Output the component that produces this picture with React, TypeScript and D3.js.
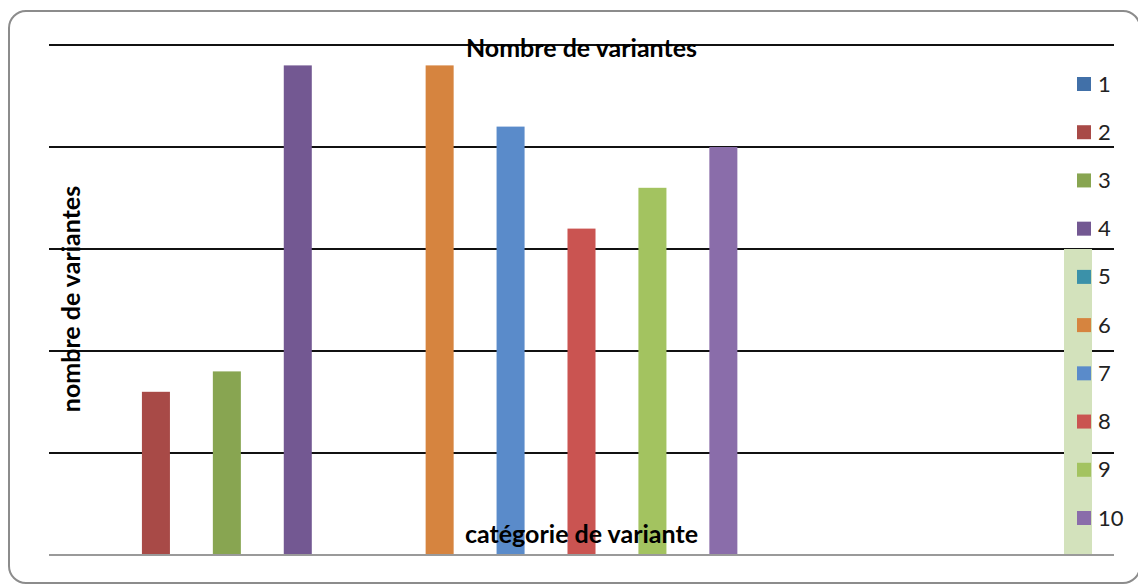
import React from "react";
import * as d3 from "d3";

// One category, fifteen series (the legend only has room for the first ten)
const seriesNames = ["1", "2", "3", "4", "5", "6", "7", "8", "9", "10", "11", "12", "13", "14", "15"];
const seriesValues = [0, 8, 9, 24, 0, 24, 21, 16, 18, 20, 0, 0, 0, 0, 15];
const seriesColors = [
  "#4170A8", "#A84A47", "#88A551", "#735892", "#3B91A9",
  "#D6843F", "#5A8BCA", "#CA5451", "#A3C360", "#8A6DAA",
  "#93CDDD", "#FAC08F", "#B9CDE5", "#E6B9B8", "#D3E2BC",
];
const legendNames = seriesNames.slice(0, 10);
const yTicks = [0, 5, 10, 15, 20, 25];

const chartTitle = "Nombre de variantes";
const xTitle = "catégorie de variante";
const yTitle = "nombre de variantes";

const W = 1138;
const H = 584;
const plot = { left: 49, right: 1114, top: 45, bottom: 555 };
const font = "Lato, 'Open Sans', sans-serif";

export default function App() {
  const y = d3.scaleLinear().domain([0, 25]).range([plot.bottom, plot.top]);
  const x = d3
    .scaleBand<string>()
    .domain(seriesNames)
    .range([plot.left, plot.right])
    .paddingInner(0.605)
    .paddingOuter(0.31);
  const legendY = d3
    .scalePoint<string>()
    .domain(legendNames)
    .range([84, 518]);

  return (
    <svg
      width={W}
      height={H}
      style={{ position: "fixed", left: 0, top: 0, background: "#fff" }}
      fontFamily={font}
    >
      <rect x={0} y={0} width={W} height={H} fill="#fff" />
      <rect
        x={9}
        y={11}
        width={1131}
        height={572}
        rx={17}
        ry={17}
        fill="#fff"
        stroke="#8c8c8c"
        strokeWidth={2}
      />

      {/* horizontal gridlines */}
      {yTicks
        .filter((t) => t > 0)
        .map((t) => (
          <line
            key={t}
            x1={plot.left}
            x2={plot.right}
            y1={y(t)}
            y2={y(t)}
            stroke="#111"
            strokeWidth={2.2}
          />
        ))}

      {/* bars */}
      {seriesNames.map((s, i) => {
        const v = seriesValues[i];
        if (v <= 0) return null;
        return (
          <rect
            key={s}
            x={x(s)}
            y={y(v)}
            width={x.bandwidth()}
            height={y(0) - y(v)}
            fill={seriesColors[i]}
          />
        );
      })}

      {/* category axis */}
      <line
        x1={plot.left}
        x2={plot.right}
        y1={y(0)}
        y2={y(0)}
        stroke="#9a9a9a"
        strokeWidth={2}
      />

      <text
        x={(plot.left + plot.right) / 2}
        y={57}
        textAnchor="middle"
        fontWeight="bold"
        fontSize={25}
        fill="#000"
      >
        {chartTitle}
      </text>

      <text
        x={(plot.left + plot.right) / 2}
        y={543}
        textAnchor="middle"
        fontWeight="bold"
        fontSize={25}
        fill="#000"
      >
        {xTitle}
      </text>

      <text
        transform={`translate(80, 299) rotate(-90)`}
        textAnchor="middle"
        fontWeight="bold"
        fontSize={25}
        fill="#000"
      >
        {yTitle}
      </text>

      {/* legend */}
      {legendNames.map((n, i) => {
        const cy = legendY(n) as number;
        return (
          <g key={n}>
            <rect x={1077} y={cy - 7} width={14} height={14} fill={seriesColors[i]} />
            <text x={1098} y={cy + 7.5} fontSize={22} fill="#222">
              {n}
            </text>
          </g>
        );
      })}
    </svg>
  );
}
